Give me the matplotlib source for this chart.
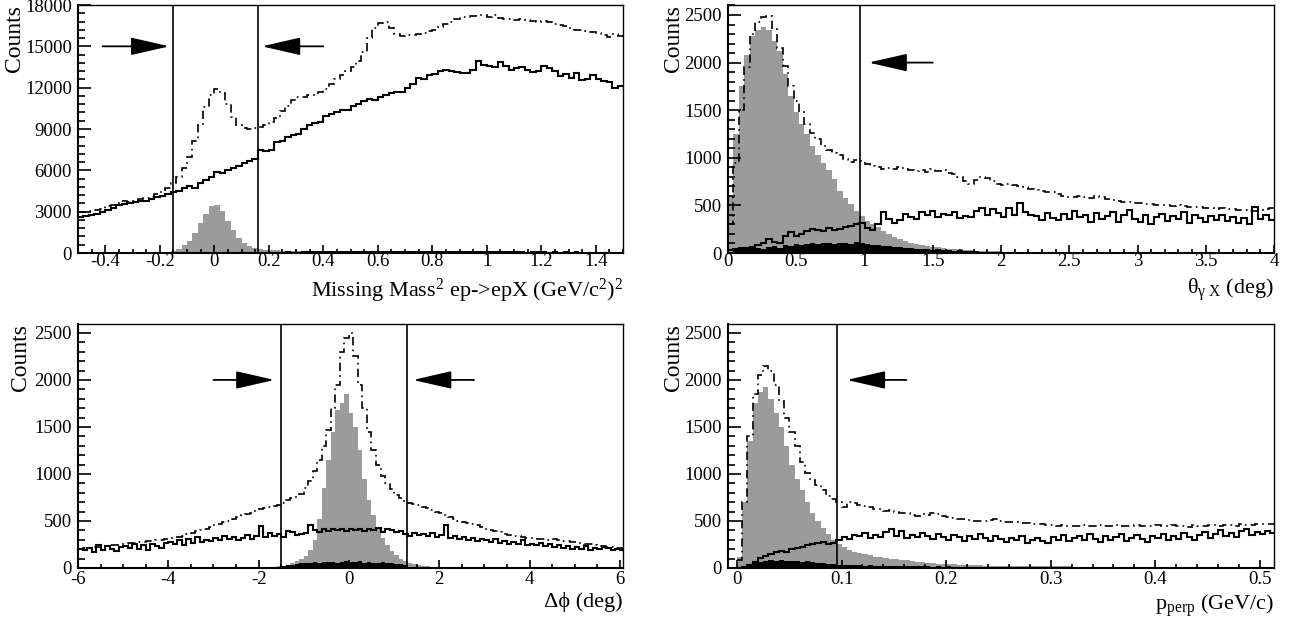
import matplotlib
matplotlib.use("Agg")
import matplotlib.pyplot as plt
import numpy as np
from matplotlib.ticker import MultipleLocator, FuncFormatter

plt.rcParams['font.family'] = ['Liberation Serif', 'DejaVu Serif']
plt.rcParams['mathtext.fontset'] = 'custom'
plt.rcParams['mathtext.rm'] = 'Liberation Serif'
plt.rcParams['mathtext.it'] = 'Liberation Serif:italic'
plt.rcParams['axes.unicode_minus'] = False

# ---------------- Missing mass squared (bins of 0.02 from -0.5) ----------------
mm_start, mm_width = -0.5, 0.02
mm_all = [2950, 3000, 3050, 3150, 3200, 3400, 3500, 3650, 3750, 3700,
          3800, 3900, 4000, 4100, 4250, 4400, 4700, 5100, 5500, 6200,
          7000, 8100, 9300, 10600, 11500, 11900, 11600, 10800, 9900, 9300,
          9100, 9000, 9050, 9150, 9300, 9500, 9800, 10300, 10700, 11100,
          11300, 11350, 11450, 11500, 11700, 11900, 12300, 12600, 12900, 13200,
          13500, 13900, 14600, 15600, 16300, 16700, 16800, 16300, 15900, 15750,
          15800, 15850, 15900, 16000, 16100, 16200, 16400, 16650, 16800, 16950,
          17100, 17150, 17200, 17250, 17300, 17150, 17250, 17050, 17000, 16950,
          16900, 16950, 16900, 16850, 16800, 16850, 16800, 16650, 16550, 16450,
          16300, 16200, 16150, 16100, 16050, 15950, 15800, 15650, 15900, 15750]
mm_bkg = [2600, 2650, 2750, 2850, 2950, 3100, 3300, 3450, 3550, 3650,
          3700, 3750, 3800, 3900, 4050, 4150, 4300, 4400, 4500, 4700,
          4850, 4750, 5050, 5300, 5500, 5850, 5800, 6050, 6200, 6300,
          6550, 6700, 6850, 7450, 7400, 7500, 8050, 8150, 8400, 8550,
          8650, 9000, 9300, 9450, 9500, 9950, 10100, 10250, 10400, 10350,
          10700, 10850, 11000, 11200, 11100, 11350, 11500, 11600, 11650, 11700,
          12000, 12300, 12700, 12600, 12900, 13000, 13200, 13250, 13200, 13150,
          13100, 13050, 13300, 13900, 13650, 13600, 13500, 13850, 13600, 13300,
          13400, 13500, 13250, 13150, 13200, 13550, 13400, 13200, 12850, 13000,
          12700, 13050, 12550, 12600, 12900, 12600, 12450, 12400, 11950, 12150]
mm_sig = [5, 5, 6, 8, 8, 10, 10, 12, 14, 15,
          18, 22, 28, 35, 45, 60, 100, 170, 300, 550,
          900, 1450, 2150, 2850, 3400, 3450, 3050, 2350, 1650, 1100,
          750, 520, 380, 300, 250, 220, 195, 175, 165, 155,
          150, 145, 140, 135, 130, 128, 125, 120, 118, 115,
          112, 110, 108, 105, 102, 100, 98, 96, 95, 92,
          90, 88, 86, 85, 84, 82, 80, 79, 78, 76,
          75, 74, 72, 71, 70, 69, 68, 66, 65, 64,
          63, 62, 61, 60, 59, 58, 57, 56, 55, 54,
          53, 52, 52, 51, 50, 49, 48, 48, 47, 46]
mm_acc = [10, 12, 10, 15, 12, 14, 16, 15, 18, 20,
          18, 22, 20, 25, 24, 28, 30, 32, 35, 38,
          40, 45, 50, 55, 60, 62, 60, 58, 62, 65,
          70, 75, 80, 90, 85, 95, 100, 90, 110, 105,
          100, 120, 110, 130, 115, 125, 140, 120, 135, 150,
          130, 145, 125, 160, 140, 135, 150, 130, 145, 155,
          140, 120, 150, 135, 160, 130, 145, 125, 140, 150,
          135, 120, 140, 115, 130, 145, 125, 110, 135, 120,
          115, 130, 105, 125, 110, 120, 100, 115, 105, 110,
          95, 110, 100, 90, 105, 95, 100, 85, 95, 90]

# ---------------- theta gamma X (bins of 0.04 from 0) ----------------
th_start, th_width = 0.0, 0.04
th_all = [300, 950, 1500, 1950, 2300, 2430, 2480, 2490, 2350, 2150,
          1960, 1750, 1600, 1480, 1350, 1260, 1200, 1120, 1080, 1050,
          1030, 990, 960, 980, 970, 930, 910, 900, 880, 890,
          885, 900, 880, 870, 860, 870, 850, 880, 860, 870,
          840, 830, 800, 760, 730, 770, 800, 790, 760, 720,
          710, 720, 710, 700, 690, 670, 660, 650, 640, 640,
          620, 600, 590, 590, 600, 590, 580, 600, 590, 570,
          560, 550, 540, 535, 530, 520, 515, 510, 505, 500,
          500, 495, 500, 490, 485, 480, 480, 475, 470, 465,
          470, 460, 465, 455, 450, 445, 440, 450, 460, 470]
th_bkg = [30, 40, 50, 55, 65, 80, 110, 150, 120, 100,
          180, 220, 180, 200, 230, 250, 240, 230, 260, 240,
          250, 270, 280, 300, 310, 260, 240, 300, 430, 360,
          320, 350, 410, 380, 360, 430, 400, 440, 380, 410,
          400, 430, 370, 390, 380, 440, 470, 400, 460, 420,
          380, 470, 400, 520, 430, 400, 390, 350, 420, 370,
          350, 410, 360, 440, 380, 400, 330, 420, 360, 390,
          430, 330, 400, 450, 360, 330, 400, 300, 380, 410,
          340, 390, 360, 430, 320, 400, 370, 330, 390, 350,
          400, 340, 380, 320, 370, 300, 480, 360, 400, 350]
th_sig = [600, 1250, 1750, 2080, 2280, 2340, 2370, 2340, 2230, 2120,
          1880, 1650, 1480, 1360, 1250, 1120, 1030, 950, 870, 780,
          650, 580, 510, 440, 390, 340, 300, 270, 230, 200,
          170, 150, 130, 110, 95, 85, 72, 62, 58, 50,
          46, 42, 38, 34, 30, 26, 22, 20, 18, 16,
          14, 13, 12, 11, 10, 10, 9, 8, 8, 7,
          7, 6, 6, 6, 5, 5, 5, 5, 4, 4,
          4, 4, 4, 3, 3, 3, 3, 3, 3, 3,
          3, 2, 2, 2, 2, 2, 2, 2, 2, 2,
          2, 2, 2, 1, 1, 1, 1, 1, 1, 1]
th_acc = [15, 30, 40, 45, 50, 55, 45, 60, 70, 55,
          80, 75, 90, 85, 95, 110, 90, 105, 100, 95,
          110, 100, 95, 115, 100, 90, 85, 80, 75, 70,
          60, 65, 55, 50, 45, 40, 45, 35, 40, 30,
          30, 25, 28, 22, 20, 18, 15, 14, 12, 12,
          10, 11, 9, 10, 8, 9, 8, 10, 7, 8,
          8, 7, 9, 6, 8, 7, 6, 8, 7, 6,
          7, 6, 8, 5, 7, 6, 5, 7, 6, 5,
          6, 5, 7, 5, 6, 4, 6, 5, 4, 6,
          5, 4, 6, 5, 4, 5, 6, 4, 5, 4]

# ---------------- delta phi (bins of 0.1 from -6) ----------------
dp_start, dp_width = -6.0, 0.1
dp_all = [200, 210, 215, 220, 225, 230, 235, 240, 245, 255,
          260, 265, 270, 275, 280, 285, 290, 295, 300, 305,
          315, 325, 335, 345, 360, 375, 390, 405, 420, 440,
          455, 470, 485, 500, 520, 540, 560, 575, 590, 610,
          625, 635, 645, 660, 675, 690, 720, 740, 760, 790,
          850, 930, 1030, 1150, 1300, 1470, 1700, 1950, 2300, 2450,
          2500, 2250, 1950, 1700, 1450, 1250, 1100, 980, 900, 840,
          780, 740, 710, 695, 680, 665, 650, 635, 620, 600,
          580, 560, 540, 520, 505, 490, 480, 470, 455, 440,
          420, 405, 390, 380, 365, 355, 345, 340, 330, 320,
          315, 310, 305, 310, 300, 305, 295, 290, 285, 280,
          275, 265, 255, 250, 240, 235, 230, 225, 220, 215,
          210]
dp_bkg = [200, 190, 210, 170, 240, 190, 230, 200, 180, 220,
          230, 210, 250, 200, 240, 190, 260, 230, 210, 270,
          280, 250, 300, 240, 310, 270, 330, 280, 300, 290,
          320, 300, 340, 310, 330, 300, 320, 350, 310, 340,
          450, 330, 370, 340, 360, 330, 390, 380, 350, 360,
          370, 460, 400, 380, 410, 390, 420, 400, 410, 390,
          420, 400, 410, 390, 420, 400, 430, 380, 420, 400,
          380, 390, 360, 340, 370, 350, 360, 340, 370, 330,
          350, 460, 320, 340, 310, 330, 300, 320, 290, 310,
          300, 280, 310, 270, 290, 260, 280, 250, 300, 240,
          260, 240, 270, 230, 250, 220, 240, 210, 230, 200,
          220, 200, 230, 190, 210, 200, 220, 210, 190, 200,
          190]
dp_sig = [0, 0, 0, 0, 0, 0, 0, 0, 0, 0,
          0, 0, 0, 0, 1, 0, 1, 0, 1, 1,
          1, 1, 1, 2, 1, 2, 2, 2, 3, 3,
          3, 4, 4, 5, 5, 6, 6, 7, 8, 9,
          8, 10, 12, 15, 20, 25, 35, 50, 70, 95,
          130, 190, 300, 520, 850, 1150, 1450, 1680, 1760, 1850,
          1650, 1500, 1250, 950, 720, 560, 420, 320, 240, 180,
          140, 100, 75, 55, 40, 30, 22, 16, 12, 9,
          9, 8, 7, 6, 5, 5, 4, 4, 3, 3,
          3, 2, 2, 2, 2, 1, 1, 1, 1, 1,
          1, 1, 1, 0, 1, 0, 0, 1, 0, 0,
          0, 0, 0, 0, 0, 0, 0, 0, 0, 0,
          0]
dp_acc = [0, 0, 1, 0, 0, 1, 0, 0, 1, 0,
          1, 0, 0, 1, 0, 1, 0, 1, 0, 1,
          1, 0, 1, 1, 0, 1, 1, 0, 1, 2,
          1, 2, 1, 2, 2, 3, 2, 3, 4, 5,
          5, 6, 8, 10, 12, 20, 30, 35, 45, 50,
          55, 50, 60, 55, 60, 65, 60, 55, 65, 70,
          65, 60, 70, 55, 60, 50, 55, 60, 50, 55,
          45, 40, 35, 15, 10, 8, 6, 5, 4, 4,
          3, 3, 2, 3, 2, 2, 1, 2, 1, 1,
          1, 1, 0, 1, 1, 0, 1, 0, 1, 0,
          0, 1, 0, 0, 1, 0, 0, 1, 0, 0,
          0, 0, 1, 0, 0, 0, 1, 0, 0, 0,
          0]

# ---------------- p_perp (bins of 0.005 from 0) ----------------
pp_start, pp_width = 0.0, 0.005
pp_all = [80, 700, 1400, 1850, 2050, 2150, 2100, 1950, 1780, 1600,
          1450, 1300, 1130, 1010, 940, 880, 830, 770, 730, 700,
          650, 700, 690, 670, 660, 650, 630, 625, 610, 620,
          600, 580, 590, 560, 550, 570, 560, 580, 570, 550,
          540, 530, 520, 525, 510, 500, 505, 500, 510, 520,
          500, 490, 485, 490, 480, 475, 470, 465, 470, 460,
          455, 450, 455, 450, 445, 450, 455, 445, 450, 455,
          450, 445, 455, 450, 445, 450, 455, 450, 445, 450,
          455, 445, 450, 455, 445, 450, 440, 455, 450, 445,
          455, 460, 450, 455, 460, 450, 465, 455, 460, 470,
          465, 470, 465]
pp_bkg = [5, 15, 30, 60, 110, 130, 150, 165, 180, 175,
          200, 215, 225, 240, 255, 270, 280, 250, 270, 300,
          330, 310, 350, 340, 370, 320, 350, 330, 380, 410,
          340, 390, 320, 350, 330, 370, 340, 310, 360, 330,
          300, 350, 330, 290, 340, 310, 360, 320, 290, 340,
          310, 280, 320, 300, 340, 270, 300, 320, 290, 270,
          330, 300, 350, 290, 320, 340, 300, 360, 310, 280,
          340, 300, 330, 360, 290, 320, 350, 310, 280, 340,
          320, 360, 300, 340, 310, 370, 330, 300, 350, 380,
          320, 360, 400, 340, 370, 330, 390, 410, 350, 380,
          360, 390, 370]
pp_sig = [120, 700, 1350, 1750, 1870, 1920, 1800, 1650, 1500, 1300,
          1100, 950, 830, 700, 580, 500, 430, 360, 300, 260,
          220, 195, 170, 155, 145, 135, 120, 112, 105, 100,
          95, 88, 80, 72, 65, 60, 55, 50, 46, 42,
          40, 38, 35, 33, 30, 29, 27, 25, 24, 22,
          21, 21, 20, 20, 19, 19, 18, 18, 18, 17,
          17, 16, 16, 16, 15, 15, 15, 14, 14, 14,
          13, 13, 13, 13, 12, 12, 12, 12, 11, 11,
          11, 11, 11, 10, 10, 10, 10, 10, 10, 9,
          9, 9, 9, 9, 9, 8, 8, 8, 8, 8,
          8, 8, 7]
pp_acc = [5, 20, 40, 55, 65, 75, 80, 70, 80, 75,
          70, 75, 65, 70, 60, 55, 50, 45, 40, 35,
          30, 35, 28, 30, 25, 27, 22, 25, 20, 22,
          20, 18, 21, 17, 19, 16, 18, 15, 17, 14,
          16, 14, 15, 13, 14, 12, 13, 12, 14, 11,
          12, 11, 13, 10, 12, 11, 10, 12, 9, 11,
          10, 9, 11, 10, 9, 10, 8, 10, 9, 8,
          9, 10, 8, 9, 8, 10, 9, 8, 9, 7,
          8, 9, 7, 8, 9, 7, 8, 8, 7, 9,
          7, 8, 8, 7, 9, 7, 8, 7, 8, 7,
          8, 7, 8]

GREY = '#9b9b9b'
DASHDOT = (0, (5, 2.5, 1, 2.5))


def draw_hists(ax, start, width, sig, acc, bkg, allv):
    e = start + width * np.arange(len(sig) + 1)
    ax.stairs(sig, e, fill=True, color=GREY, lw=0)
    ax.stairs(acc, e, fill=True, color='black', lw=0)
    ax.stairs(bkg, e, color='black', lw=1.5, baseline=None)
    ax.stairs(allv, e, color='black', lw=1.2, ls=DASHDOT, baseline=None)


def arrow(ax, tip, tail, y):
    ax.annotate('', xy=(tip, y), xytext=(tail, y),
                arrowprops=dict(arrowstyle='-|>,head_length=2.4,head_width=0.55',
                                color='black', lw=1.3, shrinkA=0, shrinkB=0))


def style(ax, xlim, ylim, xmaj, xmin, ymaj, ymin, xlabel, ylab_x, xlab_y, xpad):
    ax.set_xlim(*xlim)
    ax.set_ylim(*ylim)
    ax.xaxis.set_major_locator(MultipleLocator(xmaj))
    ax.xaxis.set_minor_locator(MultipleLocator(xmin))
    ax.yaxis.set_major_locator(MultipleLocator(ymaj))
    ax.yaxis.set_minor_locator(MultipleLocator(ymin))
    fmt = FuncFormatter(lambda v, p: '%g' % round(v, 6))
    ax.xaxis.set_major_formatter(fmt)
    ax.yaxis.set_major_formatter(fmt)
    ax.tick_params(which='both', direction='in', top=False, right=False,
                   labelsize=13.5, width=1.2)
    ax.tick_params(axis='x', which='major', length=6, pad=xpad)
    ax.tick_params(axis='x', which='minor', length=3)
    ax.tick_params(axis='y', which='major', length=9.5, pad=4.3)
    ax.tick_params(axis='y', which='minor', length=4.7)
    for s in ['top', 'right']:
        ax.spines[s].set_linewidth(1.0)
    for s in ['left', 'bottom']:
        ax.spines[s].set_linewidth(1.5)
    ax.set_xlabel(xlabel, fontsize=16, ha='right')
    ax.xaxis.set_label_coords(1.0, xlab_y)
    ax.set_ylabel('Counts', fontsize=17, ha='right')
    ax.yaxis.set_label_coords(ylab_x, 1.0)


fig = plt.figure(figsize=(12.96, 6.2), dpi=100)
ax1 = fig.add_axes([78 / 1296, 367 / 620, 545 / 1296, 248 / 620])
ax2 = fig.add_axes([728 / 1296, 367 / 620, 546 / 1296, 248 / 620])
ax3 = fig.add_axes([78 / 1296, 52 / 620, 545 / 1296, 244 / 620])
ax4 = fig.add_axes([728 / 1296, 52 / 620, 546 / 1296, 244 / 620])

# Missing mass
draw_hists(ax1, mm_start, mm_width, mm_sig, mm_acc, mm_bkg, mm_all)
for c in [-0.15, 0.16]:
    ax1.axvline(c, color='black', lw=1.2)
arrow(ax1, -0.165, -0.41, 15000)
arrow(ax1, 0.175, 0.40, 15000)
style(ax1, (-0.5, 1.5), (0, 18000), 0.2, 0.05, 3000, 600,
      r'Missing Mass$^{2}$ ep->epX (GeV/c$^{2}$)$^{2}$', -0.098, -0.094, 0.3)

# theta gamma X
draw_hists(ax2, th_start, th_width, th_sig, th_acc, th_bkg, th_all)
ax2.axvline(0.97, color='black', lw=1.2)
arrow(ax2, 1.03, 1.5, 2000)
style(ax2, (0, 4), (0, 2605), 0.5, 0.1, 500, 100,
      r'$\mathrm{\theta_{\gamma\ X}}$ (deg)', -0.08, -0.094, 0.3)

# delta phi
draw_hists(ax3, dp_start, dp_width, dp_sig, dp_acc, dp_bkg, dp_all)
for c in [-1.5, 1.28]:
    ax3.axvline(c, color='black', lw=1.2)
arrow(ax3, -1.65, -3.0, 2000)
arrow(ax3, 1.42, 2.77, 2000)
style(ax3, (-6, 6.07), (0, 2595), 2, 0.5, 500, 100,
      'Δϕ (deg)', -0.087, -0.1, 2)

# p_perp
draw_hists(ax4, pp_start, pp_width, pp_sig, pp_acc, pp_bkg, pp_all)
ax4.axvline(0.096, color='black', lw=1.2)
arrow(ax4, 0.105, 0.162, 2000)
style(ax4, (-0.0086, 0.5135), (0, 2595), 0.1, 0.02, 500, 100,
      r'p$_{\mathrm{perp}}$ (GeV/c)', -0.08, -0.1, 2)

fig.savefig('out.png', dpi=100)
